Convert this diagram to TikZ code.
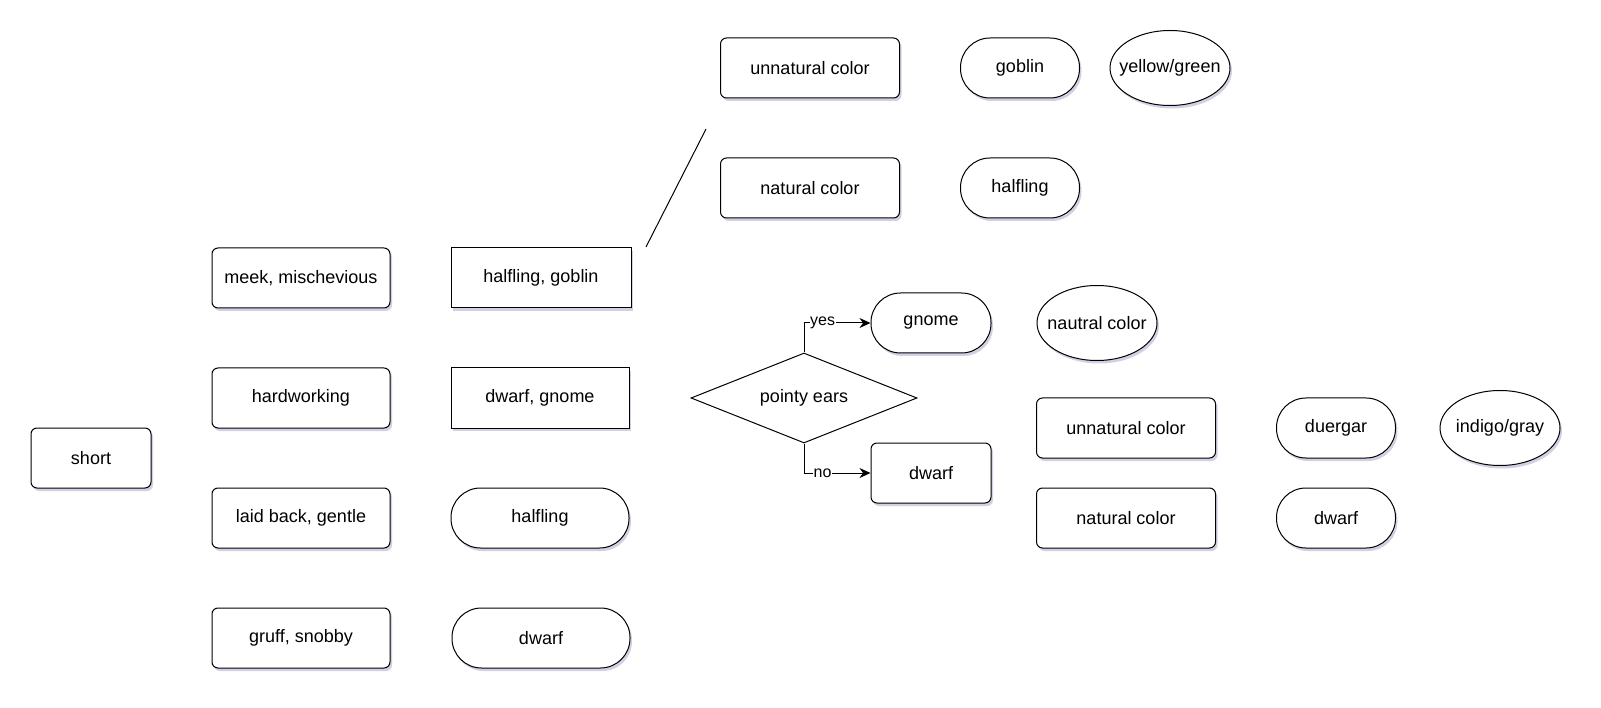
\documentclass[tikz,border=0pt]{standalone}
\usepackage{fontspec}
\setmainfont{Liberation Sans}
\usetikzlibrary{arrows.meta,shapes.geometric,shadows}
\tikzset{shade/.style={drop shadow={shadow xshift=2pt,shadow yshift=-3pt,fill=black!60!blue,opacity=0.18}}}
\tikzset{box/.style={draw,rounded corners=6pt,minimum height=60pt,inner sep=0pt,fill=white,shade}}
\tikzset{sharpbox/.style={draw,minimum height=60pt,inner sep=0pt,fill=white,shade}}
\tikzset{pill/.style={draw,rounded corners=29.5pt,minimum height=60pt,inner sep=0pt,fill=white,shade}}
\tikzset{oval/.style={draw,ellipse,minimum width=120pt,minimum height=75pt,inner xsep=-20pt,inner ysep=0pt,fill=white,shade}}
\tikzset{choice/.style={draw,diamond,aspect=2.5,minimum width=226pt,minimum height=90pt,inner sep=0pt,fill=white}}
\tikzset{flow/.style={-{Stealth[length=11pt,width=10pt]}}}
\tikzset{answer/.style={fill=white,inner sep=0.5pt,font=\fontsize{16}{18}\selectfont}}

\begin{document}
\begin{tikzpicture}[x=1pt,y=-1pt,line width=1pt,font=\fontsize{18}{21}\selectfont]
    \useasboundingbox (0,0) rectangle (1601,708);
    % first column
    \node (short) at (91,458) [box,minimum width=120pt] {short};
    % traits
    \node (meek) at (301,278) [box,minimum width=178pt] {meek, mischevious};
    \node (hard) at (301,398) [box,minimum width=178pt] {hardworking};
    \node (laid) at (301,518) [box,minimum width=178pt] {laid back, gentle};
    \node (gruff) at (301,638) [box,minimum width=178pt] {gruff, snobby};
    % races
    \node (halfgob) at (541,278) [sharpbox,minimum width=180pt] {halfling, goblin};
    \node (dwgn) at (540,398) [sharpbox,minimum width=178pt] {dwarf, gnome};
    \node (halfA) at (540,518) [pill,minimum width=178pt] {halfling};
    \node (dwarfA) at (541,638) [pill,minimum width=178pt] {dwarf};
    % loose line
    \coordinate (lnA) at (646,247);
    \coordinate (lnB) at (706,129);
    \draw (lnA) -- (lnB);
    % skin colour, upper group
    \node (unnatA) at (810,68) [box,minimum width=179pt] {unnatural color};
    \node (natA) at (810,188) [box,minimum width=179pt] {natural color};
    \node (goblin) at (1020,68) [pill,minimum width=119pt] {goblin};
    \node (halfB) at (1020,188) [pill,minimum width=119pt] {halfling};
    \node (yellow) at (1170,68) [oval] {yellow/green};
    % decision
    \node (ears) at (804,398) [choice] {pointy ears};
    \node (gnome) at (931,323) [pill,minimum width=120pt] {gnome};
    \node (dwarfB) at (931,473) [box,minimum width=120pt] {dwarf};
    \draw [flow] (ears.north) |- node [answer,pos=0.64] {yes} (gnome.west);
    \draw [flow] (ears.south) |- node [answer,pos=0.64] {no} (dwarfB.west);
    \node (nautral) at (1097,323) [oval] {nautral color};
    % skin colour, lower group
    \node (unnatB) at (1126,428) [box,minimum width=179pt] {unnatural color};
    \node (natB) at (1126,518) [box,minimum width=179pt] {natural color};
    \node (duergar) at (1336,428) [pill,minimum width=119pt] {duergar};
    \node (dwarfC) at (1336,518) [pill,minimum width=119pt] {dwarf};
    \node (indigo) at (1500,428) [oval] {indigo/gray};
\end{tikzpicture}
\end{document}
